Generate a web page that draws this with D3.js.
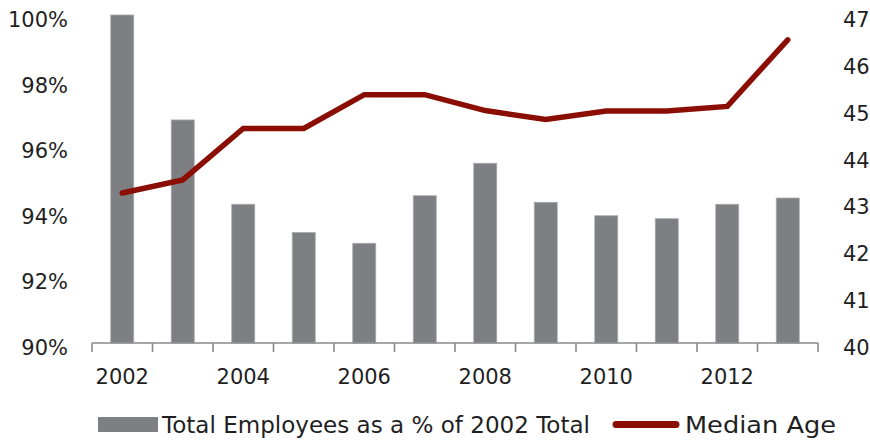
<!DOCTYPE html>
<html>
<head>
<meta charset="utf-8">
<script src="https://cdn.jsdelivr.net/npm/d3@7"></script>
<style>
  html, body { margin: 0; padding: 0; background: #fff; }
  svg { display: block; font-family: "DejaVu Sans", sans-serif; }
</style>
</head>
<body>
<svg id="chart" width="870" height="440"></svg>
<script>
// Years on the category axis
const years = [2002, 2003, 2004, 2005, 2006, 2007, 2008, 2009, 2010, 2011, 2012, 2013];
// Total employees as a percentage of the 2002 total
const employeesPct = [100, 96.8, 94.23, 93.37, 93.04, 94.49, 95.48, 94.29, 93.88, 93.79, 94.23, 94.42];
// Median age of employees
const medianAge = [43.2, 43.48, 44.58, 44.58, 45.3, 45.3, 44.96, 44.77, 44.95, 44.95, 45.05, 46.47];
// Axis tick labels
const yearLabels = [2002, 2004, 2006, 2008, 2010, 2012];
const pctTicks = [90, 92, 94, 96, 98, 100];
const ageTicks = [40, 41, 42, 43, 44, 45, 46, 47];
const legendLabels = ["Total Employees as a % of 2002 Total", "Median Age"];

const barColor = "#7e7f83";
const lineColor = "#8b0e04";
const textColor = "#1f1f1f";

const svg = d3.select("#chart");

const x0 = 92, x1 = 818, yTop = 15, yBase = 343;

// band for bars
const xBar = d3.scaleBand().domain(years).range([x0, x1]).paddingInner(0.62).paddingOuter(0.31);
// band for the axis tick boundaries
const xCat = d3.scaleBand().domain(years).range([x0, x1]).padding(0);

const yPct = d3.scaleLinear().domain([90, 100]).range([yBase, yTop]);
const yAge = d3.scaleLinear().domain([40, 47]).range([yBase, yTop]);

// bars
svg.append("g").selectAll("rect")
  .data(years)
  .join("rect")
  .attr("x", d => xBar(d))
  .attr("y", (d, i) => yPct(employeesPct[i]))
  .attr("width", xBar.bandwidth())
  .attr("height", (d, i) => yBase - yPct(employeesPct[i]))
  .attr("fill", barColor)
  .attr("stroke", "#a9aaad")
  .attr("stroke-width", 0.8);

// category axis: baseline plus ticks at band boundaries
const axisG = svg.append("g").attr("stroke", "#8a8a8a").attr("stroke-width", 1.6);
axisG.append("line").attr("x1", x0).attr("x2", x1).attr("y1", yBase).attr("y2", yBase);
const boundaries = years.map(d => xCat(d)).concat([xCat(years[years.length - 1]) + xCat.bandwidth()]);
axisG.selectAll("line.tick")
  .data(boundaries)
  .join("line")
  .attr("class", "tick")
  .attr("x1", d => d).attr("x2", d => d)
  .attr("y1", yBase).attr("y2", yBase + 9);

// year labels
svg.append("g").selectAll("text")
  .data(yearLabels)
  .join("text")
  .attr("x", d => xCat(d) + xCat.bandwidth() / 2)
  .attr("y", 384)
  .attr("text-anchor", "middle")
  .attr("font-size", 21)
  .attr("fill", textColor)
  .text(d => d);

// left axis labels
svg.append("g").selectAll("text")
  .data(pctTicks)
  .join("text")
  .attr("x", 68)
  .attr("y", d => yPct(d) + 12)
  .attr("text-anchor", "end")
  .attr("font-size", 21)
  .attr("fill", textColor)
  .text(d => d + "%");

// right axis labels
svg.append("g").selectAll("text")
  .data(ageTicks)
  .join("text")
  .attr("x", 843)
  .attr("y", d => yAge(d) + 12)
  .attr("text-anchor", "start")
  .attr("font-size", 21)
  .attr("fill", textColor)
  .text(d => d);

// median age line
const line = d3.line()
  .x((d, i) => xCat(years[i]) + xCat.bandwidth() / 2)
  .y(d => yAge(d));

svg.append("path")
  .datum(medianAge)
  .attr("d", line)
  .attr("fill", "none")
  .attr("stroke", lineColor)
  .attr("stroke-width", 5.5)
  .attr("stroke-linejoin", "miter")
  .attr("stroke-linecap", "round");

// legend
const lg = svg.append("g");
lg.append("rect")
  .attr("x", 98).attr("y", 417).attr("width", 60).attr("height", 15)
  .attr("fill", barColor);
lg.append("text")
  .attr("x", 162).attr("y", 433)
  .attr("font-size", 23)
  .attr("fill", textColor)
  .attr("textLength", 428)
  .attr("lengthAdjust", "spacingAndGlyphs")
  .text(legendLabels[0]);
lg.append("line")
  .attr("x1", 616).attr("x2", 676).attr("y1", 424.5).attr("y2", 424.5)
  .attr("stroke", lineColor).attr("stroke-width", 7)
  .attr("stroke-linecap", "round");
lg.append("text")
  .attr("x", 685).attr("y", 433)
  .attr("font-size", 23)
  .attr("fill", textColor)
  .attr("textLength", 151)
  .attr("lengthAdjust", "spacingAndGlyphs")
  .text(legendLabels[1]);
</script>
</body>
</html>
